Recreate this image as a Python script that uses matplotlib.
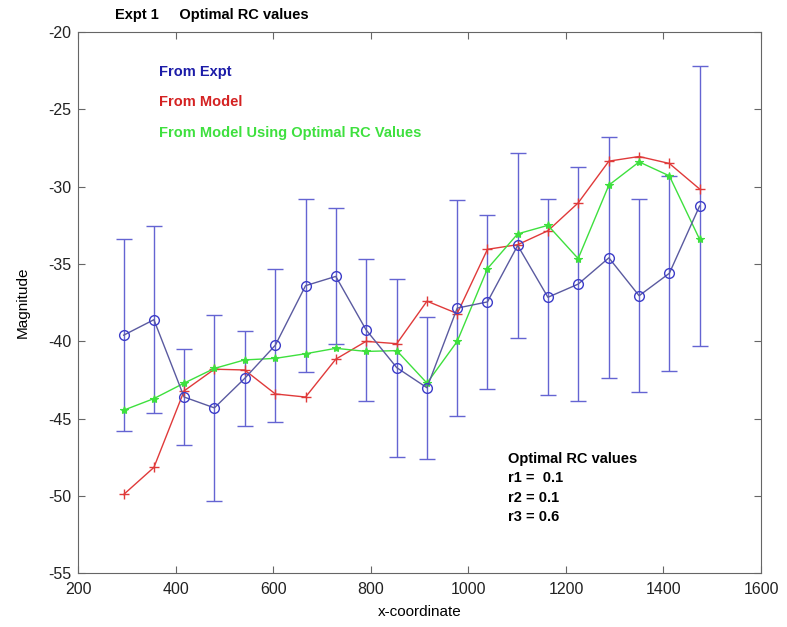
import numpy as np
import matplotlib
matplotlib.use("Agg")
import matplotlib.pyplot as plt

plt.rcParams['font.family'] = ['Liberation Sans', 'DejaVu Sans']
plt.rcParams['axes.unicode_minus'] = False

# x positions of the measurement points
x_coord = [293, 355, 417, 479, 541, 604, 666, 728, 790, 853,
           915, 977, 1039, 1101, 1163, 1225, 1288, 1350, 1412, 1474]

# experiment: mean and error bar half-width
expt_mag = [-39.6, -38.6, -43.6, -44.3, -42.4, -40.25, -36.4, -35.8, -39.25, -41.7,
            -43.0, -37.85, -37.45, -33.8, -37.15, -36.3, -34.6, -37.05, -35.6, -31.25]
expt_err = [6.2, 6.05, 3.1, 6.0, 3.05, 4.95, 5.6, 4.4, 4.6, 5.75,
            4.6, 7.0, 5.6, 6.0, 6.35, 7.55, 7.8, 6.25, 6.3, 9.05]

# model
model_mag = [-49.9, -48.15, -43.2, -41.8, -41.85, -43.4, -43.6, -41.15, -40.0, -40.15,
             -37.4, -38.2, -34.05, -33.75, -32.85, -31.05, -28.35, -28.05, -28.5, -30.15]

# model using optimal RC values
optimal_mag = [-44.45, -43.7, -42.7, -41.75, -41.2, -41.1, -40.8, -40.45, -40.65, -40.6,
               -42.7, -40.0, -35.3, -33.05, -32.5, -34.65, -29.9, -28.4, -29.3, -33.4]

rc_names = ['r1 =  ', 'r2 = ', 'r3 = ']
rc_values = [0.1, 0.1, 0.6]

red = '#e03a3a'
green = '#3ee03e'

fig = plt.figure(figsize=(7.87, 6.27), dpi=100)
ax = fig.add_axes([0.0995, 0.0855, 0.8675, 0.8635])

ax.errorbar(x_coord, expt_mag, yerr=expt_err, fmt='none', ecolor='#6464d2',
            elinewidth=1.0, capsize=5.8, capthick=1.0, zorder=1)
ax.plot(x_coord, expt_mag, color='#5a5aa0', lw=1.0, marker='o', ms=7,
        mfc='none', mec='#3c3cc8', mew=1.0, zorder=3)
ax.plot(x_coord, model_mag, color=red, lw=1.0, marker='+', ms=7, mew=1.0, zorder=2)
ax.plot(x_coord, optimal_mag, color=green, lw=1.0, marker='*', ms=6, mew=0.8, zorder=2)

ax.set_xlim(200, 1600)
ax.set_ylim(-55, -20)
ax.set_xticks(np.arange(200, 1601, 200))
ax.set_yticks(np.arange(-55, -19, 5))
ax.tick_params(direction='in', top=True, right=True, labelsize=11.5, length=5,
               color='#666666', labelcolor='#222222')
ax.tick_params(axis='x', pad=6)
ax.tick_params(axis='y', pad=5)
for s in ax.spines.values():
    s.set_color('#666666')

ax.set_xlabel('x-coordinate', fontsize=11, labelpad=6)
ax.set_ylabel('Magnitude', fontsize=11, labelpad=13)

ax.text(276, -18.9, 'Expt 1     Optimal RC values', fontsize=10.5, fontweight='bold',
        va='center', ha='left', clip_on=False)

ax.text(366, -22.6, 'From Expt', color='#1c1ca8', fontsize=10.5, fontweight='bold', va='center')
ax.text(366, -24.5, 'From Model', color='#d42222', fontsize=10.5, fontweight='bold', va='center')
ax.text(366, -26.5, 'From Model Using Optimal RC Values', color=green, fontsize=10.5,
        fontweight='bold', va='center')

ax.text(1082, -47.6, 'Optimal RC values', fontsize=10.5, fontweight='bold', va='center')
for i, (n, v) in enumerate(zip(rc_names, rc_values)):
    ax.text(1082, -48.85 - 1.25 * i, f'{n}{v}', fontsize=10.5, fontweight='bold', va='center')

fig.savefig('out.png', dpi=100)
